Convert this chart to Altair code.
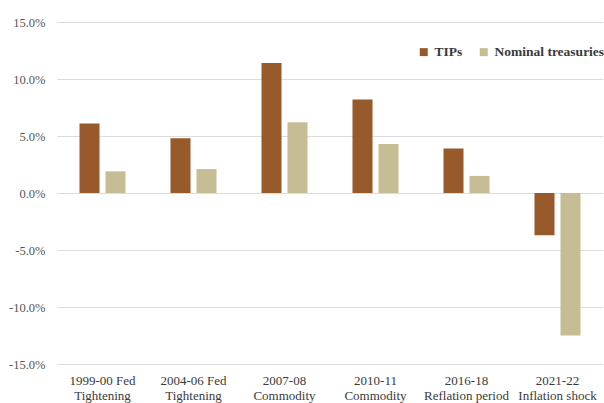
import altair as alt
import pandas as pd

# Inflation-regime episodes (two-line labels split on "|")
periods = [
    "1999-00 Fed|Tightening",
    "2004-06 Fed|Tightening",
    "2007-08|Commodity",
    "2010-11|Commodity",
    "2016-18|Reflation period",
    "2021-22|Inflation shock",
]
series = ["TIPs", "Nominal treasuries"]
tips_returns = [6.1, 4.8, 11.4, 8.2, 3.9, -3.7]
nominal_returns = [1.9, 2.1, 6.2, 4.3, 1.5, -12.5]

colors = ["#98592B", "#C7BD95"]
font = "Liberation Serif"

rows = []
for p, t, n in zip(periods, tips_returns, nominal_returns):
    rows.append({"period": p, "series": series[0], "value": t})
    rows.append({"period": p, "series": series[1], "value": n})
df = pd.DataFrame(rows)

chart = (
    alt.Chart(df)
    .mark_bar()
    .encode(
        x=alt.X(
            "period:N",
            sort=periods,
            scale=alt.Scale(paddingInner=0, paddingOuter=0),
            axis=alt.Axis(
                title=None,
                labelAngle=0,
                labelExpr="split(datum.label, '|')",
                labelFont=font,
                labelFontSize=13,
                labelColor="#3a3a3a",
                labelLineHeight=15,
                labelPadding=10,
                domain=False,
                ticks=False,
                grid=False,
            ),
        ),
        xOffset=alt.XOffset(
            "series:N",
            sort=series,
            scale=alt.Scale(paddingInner=0.23, paddingOuter=0.865),
        ),
        y=alt.Y(
            "value:Q",
            scale=alt.Scale(domain=[-15, 15], nice=False),
            axis=alt.Axis(
                title=None,
                values=[-15, -10, -5, 0, 5, 10, 15],
                labelExpr="replace(format(datum.value, '.1f'), '\u2212', '-') + '%'",
                labelFont=font,
                labelFontSize=12.5,
                labelColor="#555555",
                labelPadding=12,
                domain=False,
                ticks=False,
                gridColor="#dcdcdc",
                gridWidth=1,
            ),
        ),
        color=alt.Color(
            "series:N",
            sort=series,
            scale=alt.Scale(domain=series, range=colors),
            legend=alt.Legend(
                title=None,
                orient="none",
                direction="horizontal",
                legendX=360,
                legendY=23,
                symbolType="square",
                symbolSize=64,
                symbolStrokeWidth=0,
                labelFont=font,
                labelFontSize=13.5,
                labelFontWeight="bold",
                labelColor="#3a3a3a",
                columnPadding=14,
                labelOffset=4,
            ),
        ),
    )
    .properties(
        width=546,
        height=342,
        padding={"left": 57, "top": 22, "right": 1, "bottom": 39},
        autosize="none",
    )
    .configure_view(stroke=None)
)

chart.save("out.html", embed_options={"renderer": "svg", "actions": False})
